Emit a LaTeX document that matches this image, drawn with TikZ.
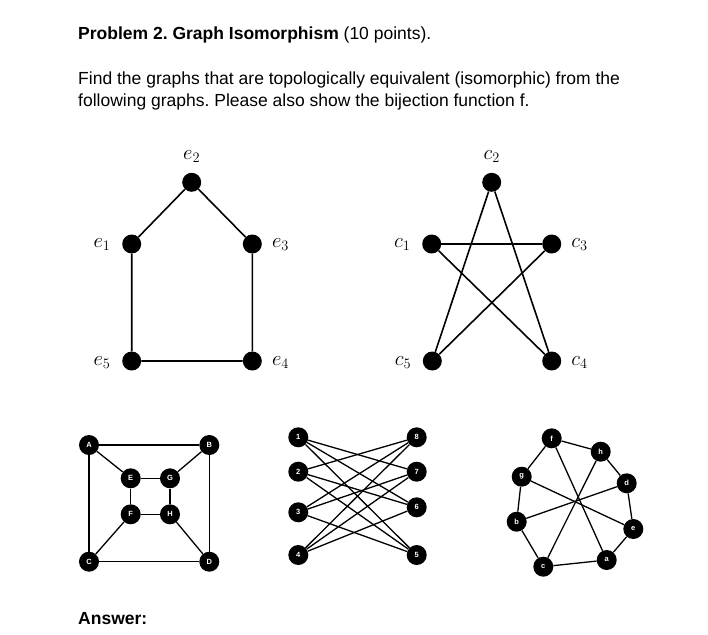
\documentclass[tikz,border=0pt]{standalone}
\usepackage{fontspec}
\setmainfont{Liberation Sans}
\usetikzlibrary{calc}
\frenchspacing
\begin{document}
\begin{tikzpicture}[x=1pt,y=-1pt,
  big/.style={circle, fill=black, inner sep=0pt, minimum size=19pt},
  small/.style={circle, fill=black, inner sep=0pt, minimum size=20pt, text=white, font=\fontsize{7.5}{8}\selectfont\bfseries},
  thick edge/.style={line width=1.6pt},
  thin edge/.style={line width=1.3pt},
  lab/.style={inner sep=0pt, font=\fontsize{22}{22}\selectfont},
  txt/.style={inner sep=0pt, anchor=base west, font=\fontsize{17.5}{20}\selectfont}
]
\useasboundingbox (0,0) rectangle (708,634);
\fill[white] (0,0) rectangle (708,634);

% texts
\node[txt] (t1) at (78,40) {\textbf{Problem 2. Graph Isomorphism} (10 points).};
\node[txt] (t2) at (78,84) {Find the graphs that are topologically equivalent (isomorphic) from the};
\node[txt] (t3) at (78,106) {following graphs. Please also show the bijection function f.};
\node[txt] (t4) at (78,624) {\textbf{Answer:}};

% pentagon graph
\node[big] (e1) at (131.7,244) {};
\node[big] (e2) at (191.7,182.3) {};
\node[big] (e3) at (252.3,244) {};
\node[big] (e4) at (252.3,361) {};
\node[big] (e5) at (131.7,361) {};
\draw[thick edge] (e1) -- (e2) -- (e3) -- (e4) -- (e5) -- (e1);
\node[lab, anchor=base east] (le1) at ($(e1)+(-21,3.5)$) {$e_1$};
\node[lab, anchor=base] (le2) at ($(e2)+(0,-23)$) {$e_2$};
\node[lab, anchor=base west] (le3) at ($(e3)+(19.5,3.5)$) {$e_3$};
\node[lab, anchor=base west] (le4) at ($(e4)+(19.5,4.5)$) {$e_4$};
\node[lab, anchor=base east] (le5) at ($(e5)+(-21,4.5)$) {$e_5$};

% star graph
\node[big] (c1) at (431.7,244) {};
\node[big] (c2) at (491.7,182.3) {};
\node[big] (c3) at (551.7,244) {};
\node[big] (c4) at (551.7,361) {};
\node[big] (c5) at (432.3,361) {};
\draw[thick edge] (c1) -- (c3);
\draw[thick edge] (c1) -- (c4);
\draw[thick edge] (c2) -- (c5);
\draw[thick edge] (c2) -- (c4);
\draw[thick edge] (c3) -- (c5);
\node[lab, anchor=base east] (lc1) at ($(c1)+(-21,3.5)$) {$c_1$};
\node[lab, anchor=base] (lc2) at ($(c2)+(0,-23)$) {$c_2$};
\node[lab, anchor=base west] (lc3) at ($(c3)+(19.5,3.5)$) {$c_3$};
\node[lab, anchor=base west] (lc4) at ($(c4)+(19.5,4.5)$) {$c_4$};
\node[lab, anchor=base east] (lc5) at ($(c5)+(-21,4.5)$) {$c_5$};

% cube graph
\node[small] (A) at (89,445) {A};
\node[small] (B) at (209.3,445) {B};
\node[small] (C) at (89,561.7) {C};
\node[small] (D) at (209.3,561.7) {D};
\node[small] (E) at (130.7,478.3) {E};
\node[small] (G) at (170,478.3) {G};
\node[small] (F) at (130.7,514.3) {F};
\node[small] (H) at (170,514.3) {H};
\foreach \u/\v in {A/B,A/C,A/E,B/D,B/G,C/D,C/F,D/H,E/G,E/F,G/H,F/H}
  \draw[thin edge] (\u) -- (\v);

% bipartite graph
\node[small] (n1) at (298.3,437.3) {1};
\node[small] (n2) at (298.3,471.7) {2};
\node[small] (n3) at (298.3,512.3) {3};
\node[small] (n4) at (298.3,555) {4};
\node[small] (n8) at (416.7,437.3) {8};
\node[small] (n7) at (416.7,471.7) {7};
\node[small] (n6) at (416.7,507.3) {6};
\node[small] (n5) at (416.7,555) {5};
\foreach \u/\v in {n1/n7,n1/n6,n1/n5,n2/n8,n2/n6,n2/n5,n3/n8,n3/n7,n3/n5,n4/n8,n4/n7,n4/n6}
  \draw[thin edge] (\u) -- (\v);

% octagon graph
\node[small] (f) at (551.7,438.3) {f};
\node[small] (h) at (600.7,451.7) {h};
\node[small] (d) at (626.7,483.3) {d};
\node[small] (e) at (633.3,529) {e};
\node[small] (a) at (606.7,560) {a};
\node[small] (c) at (543.3,566.7) {c};
\node[small] (b) at (516.7,521.7) {b};
\node[small] (g) at (521.7,476.7) {g};
\foreach \u/\v in {f/h,h/d,d/e,e/a,a/c,c/b,b/g,g/f,f/a,h/c,d/b,g/e}
  \draw[thin edge] (\u) -- (\v);
\end{tikzpicture}
\end{document}
